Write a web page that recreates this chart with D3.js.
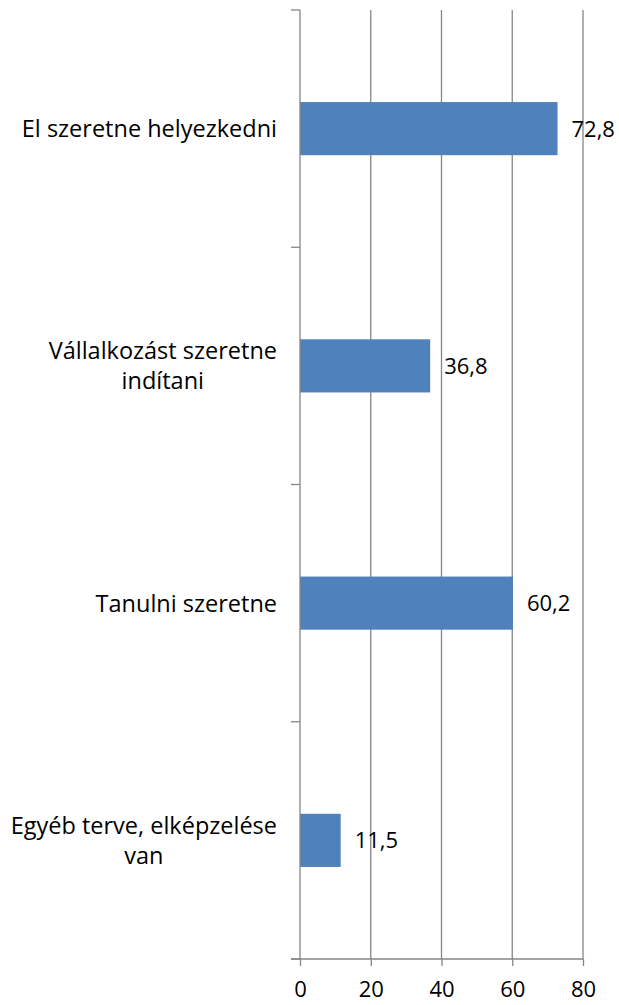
<!DOCTYPE html>
<html>
<head>
<meta charset="utf-8">
<script src="https://cdn.jsdelivr.net/npm/d3@7"></script>
<style>
  body { margin: 0; background: #fff; }
  text { font-family: "Open Sans", sans-serif; fill: #000; }
</style>
</head>
<body>
<script>
// Data
var categories = [
  ["El szeretne helyezkedni"],
  ["Vállalkozást szeretne", "indítani"],
  ["Tanulni szeretne"],
  ["Egyéb terve, elképzelése", "van"]
];
var values = [72.8, 36.8, 60.2, 11.5];
var valueLabels = ["72,8", "36,8", "60,2", "11,5"];
var xTicks = [0, 20, 40, 60, 80];

var w = 619, h = 1005;
var pLeft = 300, pRight = 583, pTop = 10, pBottom = 959;

var svg = d3.select("body").append("svg")
  .attr("width", w)
  .attr("height", h);

var x = d3.scaleLinear().domain([0, 80]).range([pLeft, pRight]);
var y = d3.scaleBand().domain(d3.range(categories.length)).range([pTop, pBottom])
  .paddingInner(0.776).paddingOuter(0.388);
var yb = d3.scaleBand().domain(d3.range(categories.length)).range([pTop, pBottom]);

// Gridlines
svg.append("g").selectAll("line")
  .data(xTicks.slice(1))
  .enter().append("line")
  .attr("x1", function (d) { return x(d); })
  .attr("x2", function (d) { return x(d); })
  .attr("y1", pTop).attr("y2", pBottom)
  .attr("stroke", "#868686").attr("stroke-width", 1.3);

// Bars
svg.append("g").selectAll("rect")
  .data(values)
  .enter().append("rect")
  .attr("x", x(0))
  .attr("y", function (d, i) { return y(i); })
  .attr("width", function (d) { return x(d) - x(0); })
  .attr("height", y.bandwidth())
  .attr("fill", "#4F81BD");

// Value labels
svg.append("g").selectAll("text")
  .data(values)
  .enter().append("text")
  .attr("x", function (d) { return x(d) + 14; })
  .attr("y", function (d, i) { return y(i) + y.bandwidth() / 2; })
  .attr("dy", "0.36em")
  .style("font-size", "22px")
  .text(function (d, i) { return valueLabels[i]; });

// Y axis
svg.append("line")
  .attr("x1", pLeft).attr("x2", pLeft).attr("y1", pTop).attr("y2", pBottom)
  .attr("stroke", "#868686").attr("stroke-width", 1.3);
svg.append("g").selectAll("line")
  .data(d3.range(categories.length + 1))
  .enter().append("line")
  .attr("x1", pLeft - 9).attr("x2", pLeft)
  .attr("y1", function (d) { return pTop + d * yb.step(); })
  .attr("y2", function (d) { return pTop + d * yb.step(); })
  .attr("stroke", "#868686").attr("stroke-width", 1.3);

// Category labels
categories.forEach(function (lines, i) {
  var g = svg.append("g");
  var cy = yb(i) + yb.bandwidth() / 2;
  var lh = 30;
  var t = g.selectAll("text").data(lines).enter().append("text")
    .attr("y", function (d, j) { return cy + (j - (lines.length - 1) / 2) * lh; })
    .attr("dy", "0.36em")
    .attr("text-anchor", "middle")
    .style("font-size", "23.5px")
    .text(function (d) { return d; });
  var maxW = 0;
  t.each(function () { maxW = Math.max(maxW, this.getComputedTextLength()); });
  t.attr("x", pLeft - 23 - maxW / 2);
});

// X axis
var xAxis = d3.axisBottom(x).tickValues(xTicks).tickSize(7).tickPadding(15);
var gx = svg.append("g")
  .attr("transform", "translate(0," + pBottom + ")")
  .call(xAxis);
gx.select(".domain").attr("stroke", "#868686").attr("stroke-width", 1.3)
  .attr("d", "M" + (pLeft - 9) + ",0H" + pRight);
gx.selectAll(".tick line").attr("stroke", "#868686").attr("stroke-width", 1.3);
gx.selectAll(".tick text").style("font-size", "22px").attr("fill", "#000")
  .style("font-family", "'Open Sans', sans-serif");
</script>
</body>
</html>
